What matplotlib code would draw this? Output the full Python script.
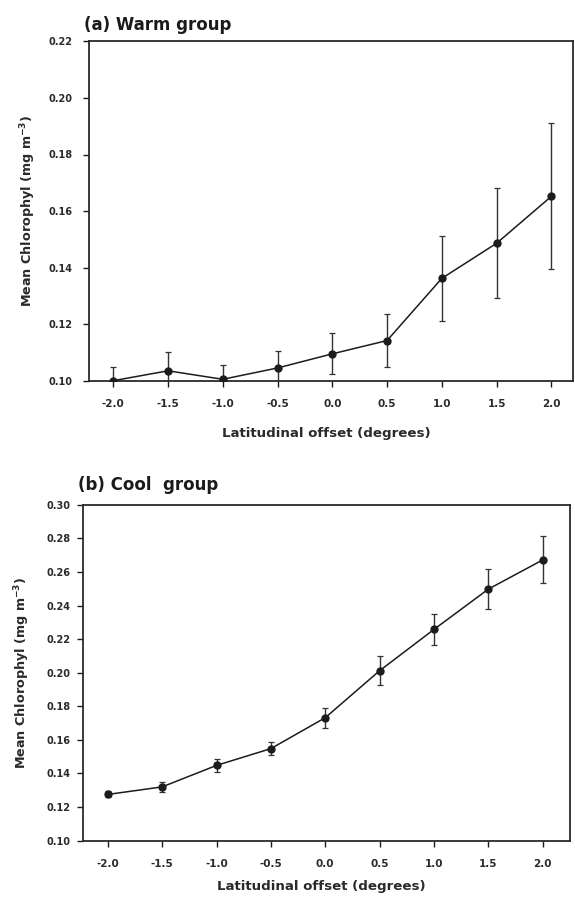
import matplotlib
matplotlib.use("Agg")
import matplotlib.pyplot as plt
import numpy as np

# latitudinal offsets (degrees)
offsets = [-2.0, -1.5, -1.0, -0.5, 0.0, 0.5, 1.0, 1.5, 2.0]

# warm group: mean chlorophyll and error half-widths
warm_mean = [0.100, 0.1035, 0.1005, 0.1045, 0.1095, 0.1142, 0.1362, 0.1486, 0.1652]
warm_err = [0.005, 0.0068, 0.005, 0.006, 0.0072, 0.0093, 0.015, 0.0195, 0.0258]

# cool group
cool_mean = [0.1275, 0.1320, 0.1448, 0.1548, 0.1732, 0.2012, 0.2258, 0.2498, 0.2672]
cool_err = [0.0018, 0.0028, 0.0040, 0.0037, 0.0060, 0.0085, 0.0094, 0.0120, 0.0140]

warm_yticks = [0.10, 0.12, 0.14, 0.16, 0.18, 0.20, 0.22]
cool_yticks = [0.10, 0.12, 0.14, 0.16, 0.18, 0.20, 0.22, 0.24, 0.26, 0.28, 0.30]

plt.rcParams['font.family'] = ['DejaVu Sans']
plt.rcParams['axes.unicode_minus'] = False
plt.rcParams['mathtext.default'] = 'bf'

ink = '#1c1c1c'
fig = plt.figure(figsize=(5.75, 9), dpi=100)


def panel(rect, means, errs, yticks, xlim, ypad, title, title_xy, xlab_y):
    ax = fig.add_axes(rect)
    ax.errorbar(offsets, means, yerr=errs, color=ink, ecolor='#333333',
                elinewidth=1.0, capsize=2.5, capthick=0.9, lw=1.1,
                marker='o', ms=5, mfc=ink, mec=ink, zorder=3)
    ax.set_xlim(*xlim)
    ax.set_ylim(yticks[0], yticks[-1])
    ax.set_xticks(offsets)
    ax.set_xticklabels([f'{v:.1f}' for v in offsets])
    ax.set_yticks(yticks)
    ax.set_yticklabels([f'{v:.2f}' for v in yticks])
    ax.tick_params(axis='x', direction='out', length=4, width=1, pad=9,
                   labelsize=7.5, colors=ink)
    ax.tick_params(axis='y', direction='out', length=4, width=1, pad=ypad,
                   labelsize=7, colors=ink)
    for lab in ax.get_xticklabels() + ax.get_yticklabels():
        lab.set_fontweight('bold')
        lab.set_color('#2a2a2a')
    for s in ax.spines.values():
        s.set_linewidth(1.3)
        s.set_color('#2a2a2a')
    ax.set_ylabel(r'Mean Chlorophyl (mg m$^{-3}$)', fontsize=9.2,
                  fontweight='bold', color='#2a2a2a')
    ax.yaxis.set_label_coords(-0.105, 0.5)
    ax.set_xlabel('Latitudinal offset (degrees)', fontsize=9.6,
                  fontweight='bold', color='#2a2a2a')
    ax.xaxis.set_label_coords(0.49, xlab_y)
    fig.text(title_xy[0], title_xy[1], title, fontsize=12, fontweight='bold',
             color='#1a1a1a', va='center', ha='left')
    return ax


panel([0.155, 0.577, 0.842, 0.377], warm_mean, warm_err, warm_yticks,
      (-2.22, 2.2), 8, '(a) Warm group', (0.146, 0.972), -0.137)
panel([0.144, 0.066, 0.847, 0.373], cool_mean, cool_err, cool_yticks,
      (-2.23, 2.25), 5, '(b) Cool  group', (0.136, 0.461), -0.117)

fig.savefig('out.png', dpi=100)
